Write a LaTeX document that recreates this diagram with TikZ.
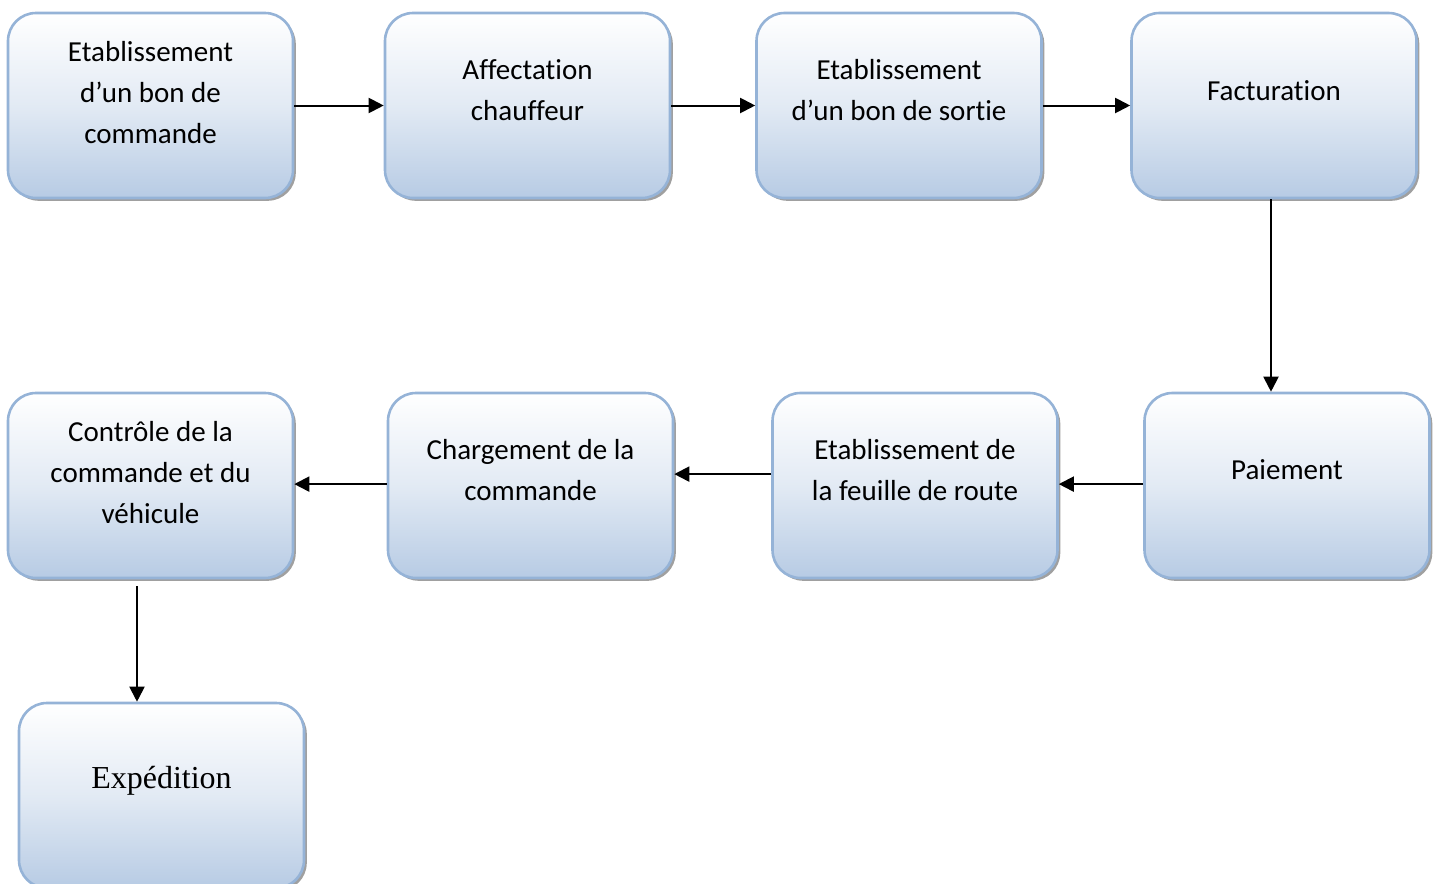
\documentclass[tikz,border=0pt]{standalone}
\usepackage{fontspec}
\setmainfont{Carlito}[Ligatures={NoCommon,NoRare,NoContextual},RawFeature={-liga;-clig;-calt;-dlig}]
\newfontfamily\timesfont{Liberation Serif}
\usetikzlibrary{arrows.meta,shadows}
\definecolor{boxedge}{HTML}{95B3D7}
\definecolor{boxbot}{HTML}{B7CBE4}
\definecolor{shadowgrey}{HTML}{A0A0A0}
\tikzset{
  stepbox/.style={rounded corners=14pt, draw=boxedge, line width=1.3pt,
    top color=white, bottom color=boxbot, middle color=boxbot!40!white,
    minimum width=142.5pt, minimum height=92.5pt, inner sep=0pt,
    drop shadow={shadow xshift=1.4pt, shadow yshift=-1.4pt, fill=shadowgrey, opacity=1}},
  boxtext/.style={font=\fontsize{14.5}{20.5}\selectfont, align=center},
  arr/.style={line width=1pt, -{Triangle[length=7.5pt,width=7.5pt]}}
}
\begin{document}
\begin{tikzpicture}[x=0.5pt,y=-0.5pt]
\useasboundingbox (0,0) rectangle (1437,884);
% first row
\node[stepbox, label={[boxtext,yshift=6.5pt]center:Etablissement\\d’un bon de\\commande}] (b1) at (150.5,105.5) {};
\node[stepbox, label={[boxtext,yshift=7.5pt]center:Affectation\\chauffeur}] (b2) at (527.5,105.5) {};
\node[stepbox, label={[boxtext,yshift=7.5pt]center:Etablissement\\d’un bon de sortie}] (b3) at (899,105.5) {};
\node[stepbox, label={[boxtext,yshift=7.5pt]center:Facturation}] (b4) at (1274,105.5) {};
% second row
\node[stepbox, label={[boxtext,yshift=7.8pt]center:Paiement}] (b5) at (1287,485.5) {};
\node[stepbox, label={[boxtext,yshift=7.5pt]center:Etablissement de\\la feuille de route}] (b6) at (915,485.5) {};
\node[stepbox, label={[boxtext,yshift=7.5pt]center:Chargement de la\\commande}] (b7) at (530.5,485.5) {};
\node[stepbox, label={[boxtext,yshift=6.5pt]center:Contrôle de la\\commande et du\\véhicule}] (b8) at (150.5,485.5) {};
% last step
\node[stepbox, label={[font=\timesfont\fontsize{16}{19}\selectfont,yshift=7.5pt]center:Expédition}] (b9) at (161.5,795.5) {};
% connectors
\draw[arr] (b1.east) -- (b2.west);
\draw[arr] (b2.east) -- (b3.west);
\draw[arr] (b3.east) -- (b4.west);
\draw[arr] ([xshift=-1.5pt]b4.south) -- ([xshift=-1.5pt]b4.south |- b5.north);
\draw[arr] ([yshift=0.7pt]b5.west) -- ([yshift=0.7pt]b6.east);
\draw[arr] ([yshift=5.7pt]b6.west) -- ([yshift=5.7pt]b6.west -| b7.east);
\draw[arr] ([yshift=0.7pt]b7.west) -- ([yshift=0.7pt]b8.east);
\draw[arr] ([xshift=-6.75pt,yshift=-3.5pt]b8.south) -- ([xshift=-6.75pt]b8.south |- b9.north);
\end{tikzpicture}
\end{document}
